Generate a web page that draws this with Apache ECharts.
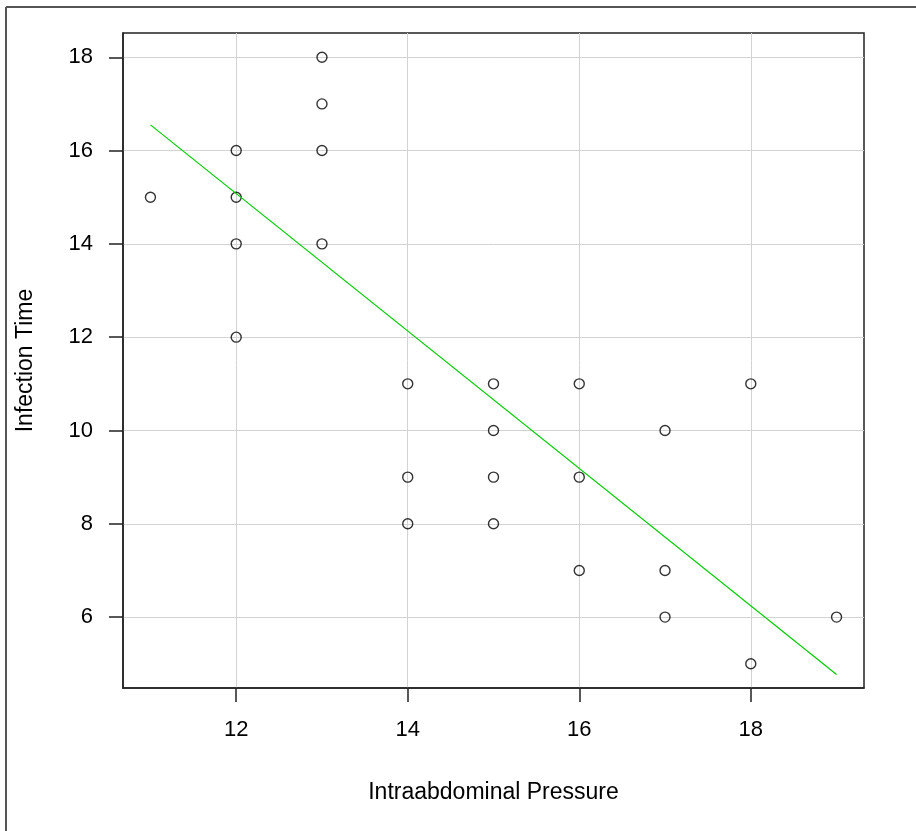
<!DOCTYPE html>
<html>
<head>
<meta charset="utf-8">
<title>Infection Time vs Intraabdominal Pressure</title>
<script src="https://cdn.jsdelivr.net/npm/echarts@6/dist/echarts.min.js"></script>
<style>
  html, body { margin: 0; padding: 0; background: #fff; }
  #chart { width: 916px; height: 831px; }
</style>
</head>
<body>
<div id="chart"></div>
<script>
var pressure = [11, 12, 12, 12, 12, 13, 13, 13, 13, 14, 14, 14, 15, 15, 15, 15, 16, 16, 16, 17, 17, 17, 18, 18, 19];
var infectionTime = [15, 16, 15, 14, 12, 18, 17, 16, 14, 11, 9, 8, 11, 10, 9, 8, 11, 9, 7, 10, 7, 6, 11, 5, 6];

// fitted line end points
var fitX = [11, 19];
var fitY = [16.55, 4.77];

// tick labels
var xTicks = [12, 14, 16, 18];
var yTicks = [6, 8, 10, 12, 14, 16, 18];

var FONT = "'Liberation Sans', Arial, sans-serif";

var points = pressure.map(function (x, i) { return [x, infectionTime[i]]; });
var fitLine = fitX.map(function (x, i) { return [x, fitY[i]]; });

var chart = echarts.init(document.getElementById('chart'));
chart.setOption({
  animation: false,
  backgroundColor: '#fff',
  grid: {
    left: 123,
    right: 52,
    top: 33,
    bottom: 143,
    show: true,
    borderColor: '#222',
    borderWidth: 1.5
  },
  graphic: [
    { type: 'line', shape: { x1: 6, y1: 7, x2: 916, y2: 7 }, style: { stroke: '#555', lineWidth: 2 } },
    { type: 'line', shape: { x1: 6, y1: 7, x2: 6, y2: 831 }, style: { stroke: '#555', lineWidth: 2 } }
  ],
  xAxis: {
    type: 'value',
    min: 10.68,
    max: 19.32,
    name: 'Intraabdominal Pressure',
    nameLocation: 'middle',
    nameGap: 93,
    nameTextStyle: { fontFamily: FONT, fontSize: 23, color: '#000' },
    axisLine: { show: true, onZero: false, lineStyle: { color: '#222', width: 1.5 } },
    axisTick: { show: true, length: 14, customValues: xTicks, lineStyle: { color: '#222', width: 1.5 } },
    axisLabel: { customValues: xTicks, margin: 31, fontFamily: FONT, fontSize: 22, color: '#000' },
    splitLine: { show: true, lineStyle: { color: '#d3d3d3', width: 1 } }
  },
  yAxis: {
    type: 'value',
    min: 4.48,
    max: 18.52,
    name: 'Infection Time',
    nameLocation: 'middle',
    nameGap: 86,
    nameTextStyle: { fontFamily: FONT, fontSize: 23, color: '#000' },
    axisLine: { show: true, onZero: false, lineStyle: { color: '#222', width: 1.5 } },
    axisTick: { show: true, length: 14, customValues: yTicks, lineStyle: { color: '#222', width: 1.5 } },
    axisLabel: { customValues: yTicks, margin: 30, fontFamily: FONT, fontSize: 22, color: '#000' },
    splitLine: { show: true, lineStyle: { color: '#d3d3d3', width: 1 } }
  },
  series: [
    {
      type: 'scatter',
      data: points,
      symbol: 'circle',
      symbolSize: 10,
      itemStyle: { color: 'rgba(255,255,255,0)', borderColor: '#000', borderWidth: 1.4 }
    },
    {
      type: 'line',
      data: fitLine,
      showSymbol: false,
      symbol: 'none',
      lineStyle: { color: '#00CD00', width: 1.2 }
    }
  ]
});
</script>
</body>
</html>
